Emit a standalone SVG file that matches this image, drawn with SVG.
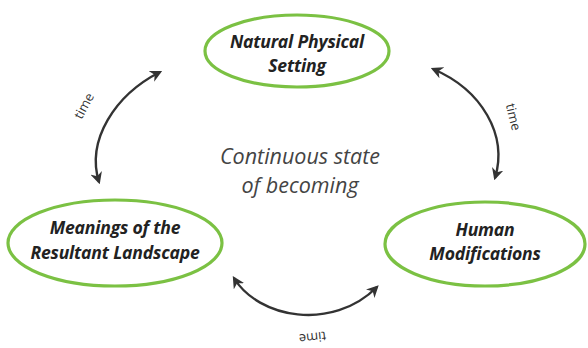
<svg xmlns="http://www.w3.org/2000/svg" width="588" height="348" viewBox="0 0 588 348">
<style>
.node ellipse{fill:#fff;stroke:#7bc143;stroke-width:3.2}
.lbl{font-family:"Open Sans",sans-serif;font-weight:bold;font-style:italic;font-size:17.6px;fill:#222;text-anchor:middle;letter-spacing:-0.2px}
.conn path{fill:none;stroke:#333;stroke-width:2.4;marker-start:url(#ah);marker-end:url(#ah)}
.time{font-family:"Open Sans",sans-serif;font-size:13px;fill:#333;text-anchor:middle}
.center{font-family:"Open Sans",sans-serif;font-style:italic;font-size:21.5px;fill:#444;text-anchor:middle}
</style>
<defs>
<marker id="ah" viewBox="0 0 10 10" refX="8" refY="5" markerWidth="5" markerHeight="5" orient="auto-start-reverse" markerUnits="strokeWidth">
<path d="M0,0 L10,5 L0,10 L3,5 Z" fill="#333"/>
</marker>
</defs>
<rect width="588" height="348" fill="#fff"/>
<g id="connectors" class="conn">
<path d="M160,72 C115,95 86,140 99,182"/>
<path d="M433,69 C482,90 508,135 495,178"/>
<path d="M234,278 C258,318 332,332 377,287"/>
</g>
<text class="time" transform="translate(88,108) rotate(-62)">time</text>
<text class="time" transform="translate(509,118) rotate(76)">time</text>
<text class="time" transform="translate(312,333) rotate(174)">time</text>
<g id="natural" class="node">
<ellipse cx="297" cy="51" rx="92" ry="36"/>
<text class="lbl" x="297" y="48">Natural Physical</text>
<text class="lbl" x="297" y="72">Setting</text>
</g>
<g id="meanings" class="node">
<ellipse cx="115" cy="243" rx="107" ry="43"/>
<text class="lbl" x="115" y="234">Meanings of the</text>
<text class="lbl" x="115" y="259">Resultant Landscape</text>
</g>
<g id="human" class="node">
<ellipse cx="485" cy="244" rx="100" ry="42"/>
<text class="lbl" x="485" y="236">Human</text>
<text class="lbl" x="485" y="260">Modifications</text>
</g>
<g id="center">
<text class="center" x="300" y="164">Continuous state</text>
<text class="center" x="300" y="193">of becoming</text>
</g>
</svg>
